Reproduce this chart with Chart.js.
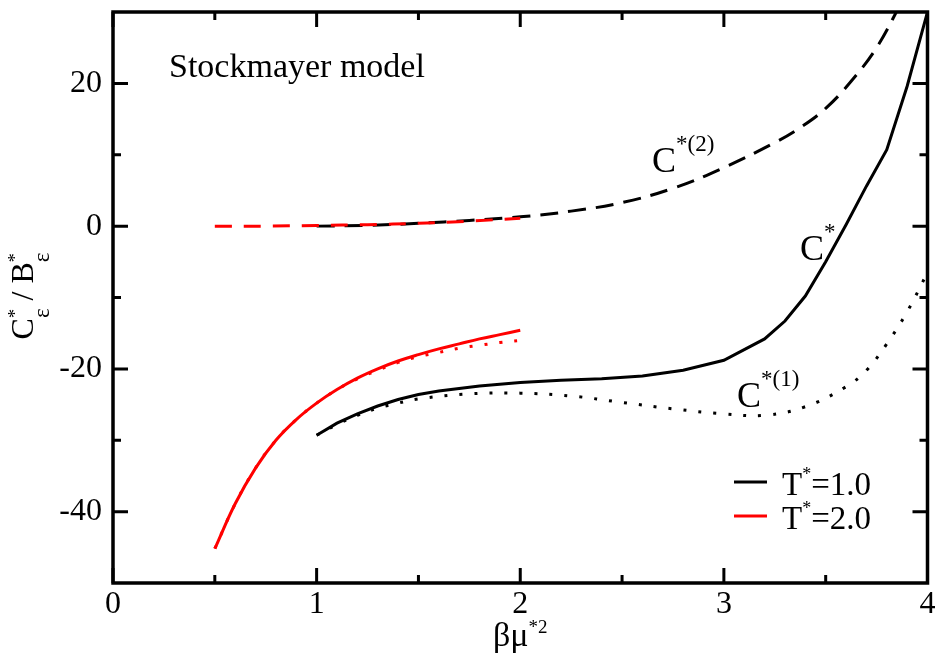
<!DOCTYPE html>
<html lang="en">
<head>
<meta charset="UTF-8">
<title>Stockmayer model</title>
<script src="https://cdn.jsdelivr.net/npm/chart.js@4.4.1/dist/chart.umd.min.js"></script>
<style>
    html, body { margin: 0; padding: 0; background: #fff; }
    #chartBox { width: 938px; height: 658px; position: relative; }
</style>
</head>
<body>

<div id="chartBox">
    <canvas id="myChart"></canvas>
</div>

<script>
    // T* = 1.0  (black)
    var xT1 = [1.0, 1.1, 1.2, 1.3, 1.4, 1.5, 1.6, 1.8, 2.0, 2.2, 2.4, 2.6, 2.8, 3.0, 3.2, 3.3, 3.4, 3.5, 3.6, 3.7, 3.8, 3.9, 4.0];
    var cT1 = [-29.3, -27.6, -26.3, -25.2, -24.3, -23.6, -23.1, -22.4, -21.9, -21.6, -21.4, -21.0, -20.2, -18.8, -15.8, -13.3, -9.8, -5.0, 0.2, 5.6, 10.7, 19.6, 30.0];

    var xT1c1 = [1.0, 1.1, 1.2, 1.3, 1.4, 1.5, 1.75, 2.0, 2.25, 2.5, 2.75, 3.0, 3.2, 3.4, 3.6, 3.7, 3.8, 3.9, 4.0];
    var c1T1 = [-29.3, -27.8, -26.5, -25.5, -24.8, -24.2, -23.5, -23.4, -23.8, -24.7, -25.6, -26.3, -26.5, -25.3, -22.5, -20.2, -16.5, -12.0, -6.5];

    var xT1c2 = [1.0, 1.25, 1.5, 1.75, 2.0, 2.25, 2.5, 2.75, 3.0, 3.25, 3.375, 3.5, 3.625, 3.75, 3.875];
    var c2T1 = [0.0, 0.1, 0.4, 0.8, 1.3, 2.1, 3.3, 5.3, 8.2, 11.7, 13.8, 16.5, 20.3, 25.0, 31.5];

    // T* = 2.0  (red)
    var xT2 = [0.5, 0.6, 0.7, 0.8, 0.9, 1.0, 1.1, 1.2, 1.3, 1.4, 1.5, 1.6, 1.7, 1.8, 1.9, 2.0];
    var cT2 = [-45.2, -38.9, -33.9, -30.0, -27.1, -24.8, -22.9, -21.3, -20.0, -18.9, -18.0, -17.2, -16.5, -15.8, -15.2, -14.6];
    var c1T2 = [-45.2, -38.9, -33.9, -30.0, -27.1, -24.8, -22.9, -21.4, -20.2, -19.1, -18.3, -17.7, -17.1, -16.7, -16.3, -16.0];

    var xT2c2 = [0.5, 0.75, 1.0, 1.25, 1.5, 1.75, 2.0];
    var c2T2 = [0.0, 0.0, 0.1, 0.2, 0.4, 0.7, 1.1];

    // ticks
    var xMajor = [0, 1, 2, 3, 4];
    var xMinor = [0.5, 1.5, 2.5, 3.5];
    var yMajor = [-40, -20, 0, 20];
    var yMinor = [-30, -10, 10];

    var FONT = '"Liberation Serif", "Times New Roman", serif';

    function pts(xs, ys) {
        return xs.map(function (x, i) { return { x: x, y: ys[i] }; });
    }

    function line(data, color, dash, tension) {
        return {
            data: data,
            borderColor: color,
            borderWidth: 3,
            borderDash: dash,
            pointRadius: 0,
            fill: false,
            tension: tension
        };
    }

    // rich text: parts [{t, size, dy, stack}]
    function layout(ctx, parts) {
        var end = 0, lastStart = 0, items = [];
        parts.forEach(function (p) {
            ctx.font = p.size + 'px ' + FONT;
            var w = ctx.measureText(p.t).width;
            var px = p.stack ? lastStart : end;
            lastStart = px;
            end = Math.max(end, px + w);
            items.push({ p: p, x: px });
        });
        return { items: items, width: end };
    }

    function drawRich(ctx, parts, x, y, center) {
        var l = layout(ctx, parts);
        var x0 = center ? x - l.width / 2 : x;
        ctx.textAlign = 'left';
        ctx.textBaseline = 'alphabetic';
        l.items.forEach(function (it) {
            ctx.font = it.p.size + 'px ' + FONT;
            ctx.fillText(it.p.t, x0 + it.x, y + (it.p.dy || 0));
        });
    }

    var framePlugin = {
        id: 'frame',
        afterDraw: function (chart) {
            var ctx = chart.ctx;
            var a = chart.chartArea;
            var xs = chart.scales.x, ys = chart.scales.y;
            ctx.save();
            ctx.strokeStyle = '#000';
            ctx.fillStyle = '#000';

            // inner ticks on all four sides
            ctx.lineWidth = 3;
            ctx.beginPath();
            function xt(v, len) {
                var p = xs.getPixelForValue(v);
                ctx.moveTo(p, a.bottom); ctx.lineTo(p, a.bottom - len);
                ctx.moveTo(p, a.top); ctx.lineTo(p, a.top + len);
            }
            function yt(v, len) {
                var p = ys.getPixelForValue(v);
                ctx.moveTo(a.left, p); ctx.lineTo(a.left + len, p);
                ctx.moveTo(a.right, p); ctx.lineTo(a.right - len, p);
            }
            xMajor.forEach(function (v) { xt(v, 15); });
            xMinor.forEach(function (v) { xt(v, 8); });
            yMajor.forEach(function (v) { yt(v, 15); });
            yMinor.forEach(function (v) { yt(v, 8); });
            ctx.stroke();

            ctx.lineWidth = 3.5;
            ctx.strokeRect(a.left, a.top, a.right - a.left, a.bottom - a.top);

            // annotations
            drawRich(ctx, [{ t: 'Stockmayer model', size: 34 }], 169, 77);
            drawRich(ctx, [{ t: 'C', size: 36 }, { t: '*(2)', size: 23, dy: -21 }], 652, 172);
            drawRich(ctx, [{ t: 'C', size: 36 }, { t: '*', size: 23, dy: -21 }], 800, 260);
            drawRich(ctx, [{ t: 'C', size: 36 }, { t: '*(1)', size: 23, dy: -21 }], 737, 407);

            // legend
            ctx.lineWidth = 3;
            ctx.beginPath();
            ctx.moveTo(734, 482); ctx.lineTo(767, 482);
            ctx.stroke();
            ctx.strokeStyle = '#ff0000';
            ctx.beginPath();
            ctx.moveTo(734, 516); ctx.lineTo(767, 516);
            ctx.stroke();
            drawRich(ctx, [{ t: 'T', size: 33 }, { t: '*', size: 18, dy: -15 }, { t: '=1.0', size: 33 }], 782, 495);
            drawRich(ctx, [{ t: 'T', size: 33 }, { t: '*', size: 18, dy: -15 }, { t: '=2.0', size: 33 }], 782, 529);

            // axis titles
            drawRich(ctx, [{ t: '\u03b2\u03bc', size: 34 }, { t: '*2', size: 19, dy: -13 }], (a.left + a.right) / 2, 646, true);

            ctx.translate(33, 296);
            ctx.rotate(-Math.PI / 2);
            drawRich(ctx, [
                { t: 'C', size: 32 },
                { t: '*', size: 18, dy: -12 },
                { t: '\u03b5', size: 23, dy: 16, stack: true },
                { t: ' / ', size: 32 },
                { t: 'B', size: 32 },
                { t: '*', size: 18, dy: -12 },
                { t: '\u03b5', size: 23, dy: 16, stack: true }
            ], 0, 0, true);

            ctx.restore();
        }
    };

    var ctx = document.getElementById('myChart').getContext('2d');
    var myChart = new Chart(ctx, {
        type: 'line',
        data: {
            datasets: [
                line(pts(xT2, cT2), '#ff0000', [], 0.4),
                line(pts(xT2c2, c2T2), '#ff0000', [17, 12], 0.4),
                line(pts(xT2, c1T2), '#ff0000', [3, 12], 0.4),
                line(pts(xT1, cT1), '#000000', [], 0),
                line(pts(xT1c2, c2T1), '#000000', [18, 10], 0.4),
                line(pts(xT1c1, c1T1), '#000000', [3, 12], 0.4)
            ]
        },
        options: {
            responsive: true,
            maintainAspectRatio: false,
            animation: false,
            layout: { padding: { left: 0, top: 12, right: 10.5, bottom: 0 } },
            plugins: {
                legend: { display: false },
                tooltip: { enabled: false }
            },
            scales: {
                x: {
                    type: 'linear',
                    min: 0,
                    max: 4,
                    grid: { display: false, drawTicks: false },
                    border: { display: false },
                    afterBuildTicks: function (s) { s.ticks = xMajor.map(function (v) { return { value: v }; }); },
                    afterFit: function (s) { s.height = 75; s.paddingLeft = 0; s.paddingRight = 0; },
                    ticks: {
                        padding: 2,
                        maxRotation: 0,
                        color: '#000',
                        font: { family: FONT, size: 32 }
                    }
                },
                y: {
                    type: 'linear',
                    min: -50,
                    max: 30,
                    grid: { display: false, drawTicks: false },
                    border: { display: false },
                    afterBuildTicks: function (s) { s.ticks = yMajor.map(function (v) { return { value: v }; }); },
                    afterFit: function (s) { s.width = 113; s.paddingTop = 0; s.paddingBottom = 0; },
                    ticks: {
                        padding: 11,
                        color: '#000',
                        font: { family: FONT, size: 32 }
                    }
                }
            }
        },
        plugins: [framePlugin]
    });
</script>

</body>
</html>
